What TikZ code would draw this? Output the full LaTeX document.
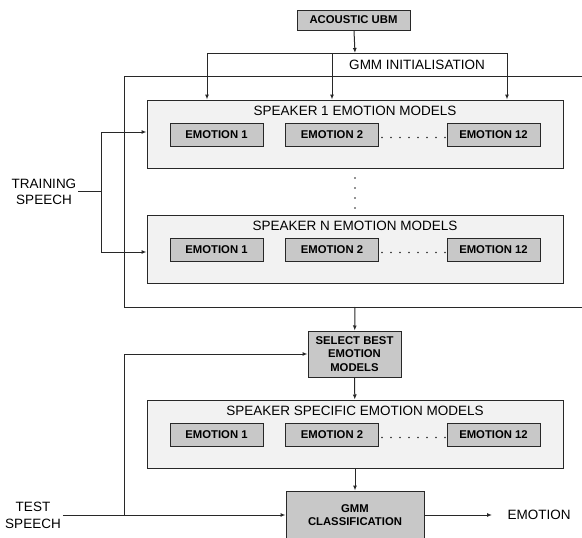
\documentclass[tikz,border=0pt]{standalone}
\usepackage{fontspec}
\setmainfont{Liberation Sans}
\usepackage{tikz}
\usetikzlibrary{positioning,calc,arrows.meta}

\definecolor{boxgray}{RGB}{200,200,200}
\definecolor{panelgray}{RGB}{242,242,242}
\definecolor{linegray}{RGB}{40,40,40}
\newcommand{\regfont}{\fontsize{13.5}{16}\selectfont}
\newcommand{\boldfont}{\fontsize{11.3}{13.5}\selectfont\bfseries}

\begin{document}
\begin{tikzpicture}[x=1pt,y=-1pt,>={Latex[length=5pt,width=4pt]}]
        \tikzstyle{wire}=[draw=linegray, line width=1pt]
        \tikzstyle{blk}=[draw=linegray, line width=1pt, fill=boxgray, inner sep=0pt, align=center, font=\boldfont]
        \tikzstyle{emo}=[blk, minimum width=93pt, minimum height=23pt]
        \tikzstyle{panel}=[draw=linegray, line width=1pt, fill=panelgray, minimum width=416pt, minimum height=68pt, inner sep=0pt]
        \tikzstyle{lbl}=[font=\regfont, inner sep=0pt, align=center]

        \fill[white] (0,0) rectangle (582,538);
        \useasboundingbox (0,0) rectangle (582,538);

        % top: ubm and initialisation bus
        \node[blk, minimum width=113pt, minimum height=20pt] (ubm) at (353.5,20) {ACOUSTIC UBM};
        \node[lbl] (init) at (417,65) {GMM INITIALISATION};
        \coordinate (bus) at (355,53);
        \coordinate (bl) at (207,53);
        \coordinate (bm) at (332,53);
        \coordinate (br) at (507,53);

        % outer frame round the speaker models
        \draw[wire] (600,76) -- (124,76) -- (124,307) -- (600,307);

        % speaker panels
        \node[panel] (s1) at (355,134) {};
        \node[panel] (sn) at (355,249) {};
        \node[panel] (ss) at (355,434) {};
        \node[lbl] (t1) at (355,110.5) {SPEAKER 1 EMOTION MODELS};
        \node[lbl] (tn) at (355,225.5) {SPEAKER N EMOTION MODELS};
        \node[lbl] (ts) at (355,410.5) {SPEAKER SPECIFIC EMOTION MODELS};
        \foreach \p/\y in {s1/134.5, sn/249.5, ss/434.5} {
            \node[emo] (\p a) at (216.5,\y) {EMOTION 1};
            \node[emo] (\p b) at (332,\y) {EMOTION 2};
            \node[emo] (\p c) at (493.5,\y) {EMOTION 12};
            \foreach \i in {0,...,7}
                \fill[linegray] (382+\i*9,\y+3) circle (0.8pt);
        }
        \foreach \y in {178,188,198,208}
            \fill[linegray] (355,\y) circle (0.8pt);

        \draw[wire] (bl) -- (br);
        \draw[wire,->] (ubm) -- (bus);
        \draw[wire,->] (bl) -- (bl |- s1.north);
        \draw[wire,->] (bm) -- (bm |- s1.north);
        \draw[wire,->] (br) -- (br |- s1.north);

        % training speech
        \node[lbl, inner sep=2pt] (train) at (44,191.5) {TRAINING\\SPEECH};
        \coordinate (tj) at (101,191.5);
        \draw[wire] (train) -- (tj);
        \draw[wire,->] (tj) |- ([yshift=2pt]s1.west);
        \draw[wire,->] (tj) |- ([yshift=-3pt]sn.west);

        % selection and classification
        \node[blk, minimum width=93pt, minimum height=46pt] (sel) at (354.5,354) {SELECT BEST\\EMOTION\\MODELS};
        \node[blk, minimum width=138pt, minimum height=48pt] (gmm) at (355,515) {GMM\\CLASSIFICATION};
        \coordinate (ob) at (355,307);
        \draw[wire,->] (ob) -- (sel);
        \draw[wire,->] (sel) -- (ss);
        \draw[wire,->] (ss) -- (gmm);

        % test speech
        \node[lbl, inner sep=2pt] (test) at (33,515) {TEST\\[1pt]SPEECH};
        \coordinate (fb) at (124,515);
        \draw[wire,->] (test.east) -- (gmm.west);
        \draw[wire,->] (fb) |- (sel.west);

        \node[lbl] (out) at (539,515) {EMOTION};
        \coordinate (oe) at (492,515);
        \draw[wire,->] (gmm.east) -- (oe);
    \end{tikzpicture}
\end{document}
